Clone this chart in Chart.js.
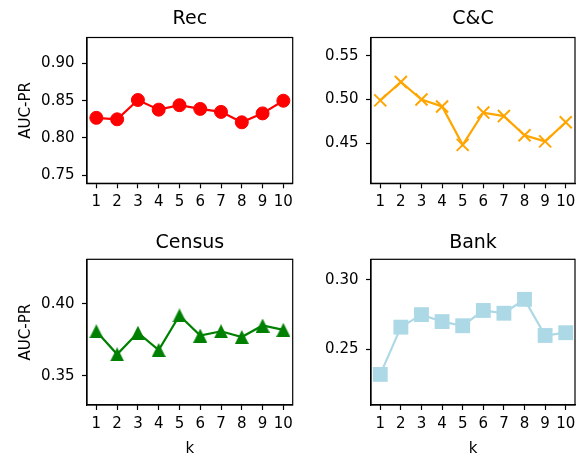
<!DOCTYPE html>
<html><head><meta charset="utf-8">
<script src="https://cdn.jsdelivr.net/npm/chart.js@4.4.1/dist/chart.umd.min.js"></script>
<style>
html,body{margin:0;padding:0;background:#fff;overflow:hidden;width:585px;height:456px;position:relative;}
.p{position:absolute;}
canvas{display:block;}
</style></head><body>
<div class="p" style="left:0px;top:0px"><canvas id="c1" width="320" height="220"></canvas></div>
<div class="p" style="left:300px;top:0px"><canvas id="c2" width="300" height="220"></canvas></div>
<div class="p" style="left:0px;top:220px"><canvas id="c3" width="320" height="240"></canvas></div>
<div class="p" style="left:300px;top:220px"><canvas id="c4" width="300" height="240"></canvas></div>
<script>
// ---- data ----
const kValues = [1, 2, 3, 4, 5, 6, 7, 8, 9, 10];
const recAUC    = [0.827, 0.825, 0.851, 0.838, 0.844, 0.839, 0.835, 0.821, 0.833, 0.850];
const ccAUC     = [0.499, 0.520, 0.500, 0.492, 0.448, 0.485, 0.481, 0.459, 0.452, 0.474];
const censusAUC = [0.381, 0.365, 0.380, 0.368, 0.392, 0.378, 0.381, 0.377, 0.385, 0.382];
const bankAUC   = [0.232, 0.266, 0.275, 0.270, 0.267, 0.278, 0.276, 0.286, 0.260, 0.262];
const recTicks    = [0.75, 0.80, 0.85, 0.90];
const ccTicks     = [0.45, 0.50, 0.55];
const censusTicks = [0.35, 0.40];
const bankTicks   = [0.25, 0.30];
const recLim    = [0.739, 0.935];
const ccLim     = [0.404, 0.571];
const censusLim = [0.3298, 0.431];
const bankLim   = [0.210, 0.3148];
const panelTitles = ['Rec', 'C&C', 'Census', 'Bank'];
const yTitle = 'AUC-PR';
const xTitle = 'k';

Chart.defaults.font.family = "'DejaVu Sans', sans-serif";
Chart.defaults.color = '#000';

function triangleImage(color, size) {
  const c = document.createElement('canvas');
  c.width = size; c.height = size;
  const ctx = c.getContext('2d');
  ctx.fillStyle = color;
  ctx.beginPath();
  ctx.moveTo(size / 2, 0);
  ctx.lineTo(size, size);
  ctx.lineTo(0, size);
  ctx.closePath();
  ctx.fill();
  return c;
}

const frame = {
  id: 'frame',
  afterDraw(chart) {
    const {ctx, chartArea: a} = chart;
    ctx.save();
    ctx.strokeStyle = '#000';
    ctx.lineWidth = 1.2;
    ctx.strokeRect(a.left, a.top, a.right - a.left, a.bottom - a.top);
    ctx.restore();
  }
};

function makePanel(cfg) {
  new Chart(document.getElementById(cfg.id), {
    type: 'line',
    data: {
      datasets: [{
        data: kValues.map((x, i) => ({x: x, y: cfg.values[i]})),
        borderColor: cfg.color,
        backgroundColor: cfg.color,
        borderWidth: 2.2,
        pointStyle: cfg.pointStyle,
        pointRadius: cfg.radius,
        pointBorderWidth: cfg.pointBorderWidth,
        pointBackgroundColor: cfg.color,
        pointBorderColor: cfg.color,
        tension: 0,
        clip: false
      }]
    },
    options: {
      responsive: false,
      animation: false,
      events: [],
      layout: {padding: {left: 0, right: cfg.rightPad, top: 0, bottom: 0}},
      plugins: {
        legend: {display: false},
        tooltip: {enabled: false},
        title: {
          display: true, text: cfg.title, fullSize: false, color: '#000',
          font: {size: 19, weight: 'normal', lineHeight: 1},
          padding: {top: cfg.titleTop, bottom: cfg.titleBottom}
        }
      },
      scales: {
        x: {
          type: 'linear', min: 0.55, max: 10.45,
          afterBuildTicks: s => { s.ticks = kValues.map(v => ({value: v})); },
          afterFit: s => { s.height = cfg.xAxisHeight; },
          ticks: {font: {size: 15}, color: '#000', padding: 5, maxRotation: 0, autoSkip: false,
                  callback: v => String(v)},
          grid: {drawOnChartArea: false, drawTicks: true, tickLength: 5, tickColor: '#000', tickWidth: 1.2},
          border: {display: true, color: '#000', width: 1.2},
          title: {display: cfg.showX, text: xTitle, color: '#000',
                  font: {size: 15, lineHeight: 1}, padding: {top: 0, bottom: 3.7}}
        },
        y: {
          type: 'linear', min: cfg.lim[0], max: cfg.lim[1],
          afterBuildTicks: s => { s.ticks = cfg.ticks.map(v => ({value: v})); },
          afterFit: s => { s.width = cfg.yAxisWidth; },
          ticks: {font: {size: 15}, color: '#000', padding: 7.5, callback: v => v.toFixed(2)},
          grid: {drawOnChartArea: false, drawTicks: true, tickLength: 5, tickColor: '#000', tickWidth: 1.2},
          border: {display: true, color: '#000', width: 1.2},
          title: {display: cfg.showY, text: yTitle, color: '#000',
                  font: {size: 15, lineHeight: 1}, padding: {top: 18.3, bottom: 0}}
        }
      }
    },
    plugins: [frame]
  });
}

makePanel({id: 'c1', values: recAUC, color: '#ff0000', pointStyle: 'circle', radius: 6.5, pointBorderWidth: 1,
  ticks: recTicks, lim: recLim, title: panelTitles[0], titleTop: 9.8, titleBottom: 8.7,
  yAxisWidth: 87, xAxisHeight: 220 - 183.3, rightPad: 320 - 292.7, showY: true, showX: false});
makePanel({id: 'c2', values: ccAUC, color: '#ffa500', pointStyle: 'crossRot', radius: 8.5, pointBorderWidth: 2,
  ticks: ccTicks, lim: ccLim, title: panelTitles[1], titleTop: 9.8, titleBottom: 8.7,
  yAxisWidth: 71, xAxisHeight: 220 - 183.3, rightPad: 300 - 275, showY: false, showX: false});
makePanel({id: 'c3', values: censusAUC, color: '#008000', pointStyle: triangleImage('#008000', 14), radius: 7, pointBorderWidth: 0,
  ticks: censusTicks, lim: censusLim, title: panelTitles[2], titleTop: 13.2, titleBottom: 7.1,
  yAxisWidth: 87, xAxisHeight: 240 - 185, rightPad: 320 - 292.7, showY: true, showX: true});
makePanel({id: 'c4', values: bankAUC, color: '#add8e6', pointStyle: 'rect', radius: 10.5, pointBorderWidth: 0,
  ticks: bankTicks, lim: bankLim, title: panelTitles[3], titleTop: 13.2, titleBottom: 7.1,
  yAxisWidth: 71, xAxisHeight: 240 - 185, rightPad: 300 - 275, showY: false, showX: true});
</script>
</body></html>
